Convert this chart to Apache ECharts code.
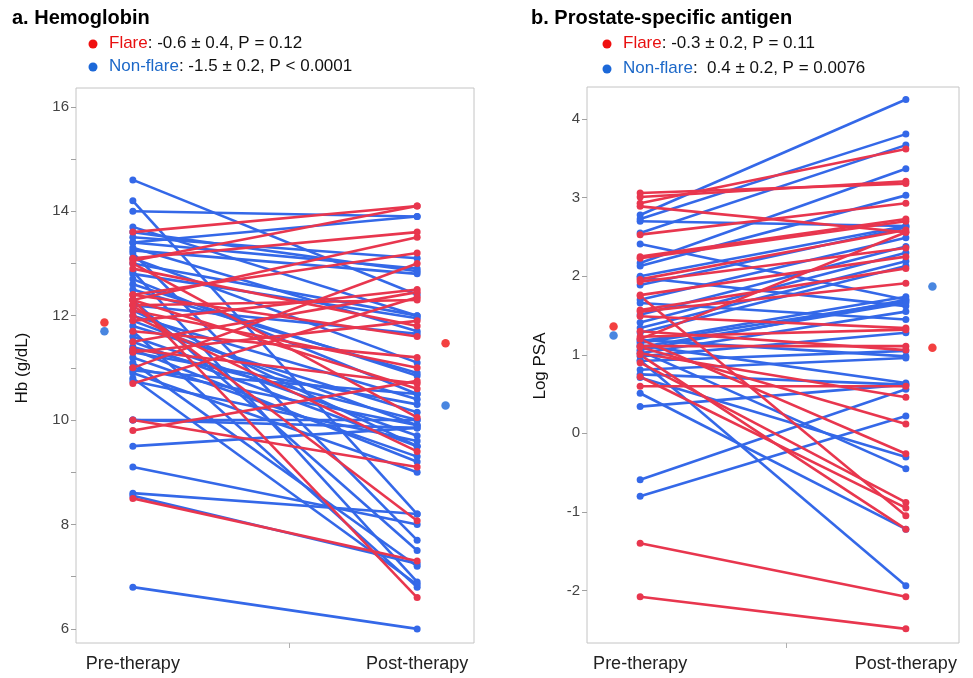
<!DOCTYPE html>
<html><head><meta charset="utf-8">
<script src="https://cdn.jsdelivr.net/npm/echarts@6/dist/echarts.min.js"></script>
<style>html,body{margin:0;padding:0;background:#fff}#c{width:973px;height:678px}</style>
</head><body><div id="c"></div>
<script>
// ---- Data ----
const categories = ['Pre-therapy', 'Post-therapy'];
// Hemoglobin (g/dL): pre and post values, paired by index
const hbFlarePre  = [13.6, 13.05, 13.1, 12.3, 12.4, 11.9, 11.5, 10.7, 12.2, 11.3, 12.9, 12.4, 11.7, 12.1, 11.35, 9.8, 12.3, 13.0, 12.0, 10.0, 12.2, 12.3, 8.5, 11.0];
const hbFlarePost = [14.1, 14.1, 13.6, 13.5, 13.2, 12.5, 12.45, 12.35, 12.3, 11.9, 11.8, 11.6, 11.2, 11.0, 10.7, 10.75, 10.6, 10.05, 9.4, 9.1, 8.07, 6.6, 7.3, 13.0];
const hbNonPre  = [14.6, 14.2, 14.0, 13.7, 13.5, 13.4, 13.4, 13.3, 13.25, 13.2, 13.1, 13.0, 12.85, 12.8, 12.7, 12.6, 12.3, 12.2, 12.0, 11.9, 11.8, 11.7, 11.6, 11.5, 11.4, 11.35, 11.2, 11.1, 11.0, 10.9, 10.8, 10.75, 10.0, 10.0, 9.5, 9.1, 8.6, 8.55, 6.8, 12.5, 13.6, 11.3, 12.1, 10.95];
const hbNonPost = [12.4, 8.2, 13.9, 12.0, 13.1, 13.9, 12.9, 11.7, 12.8, 7.7, 11.1, 12.0, 6.9, 11.95, 10.5, 10.85, 7.5, 11.65, 10.4, 9.9, 10.15, 6.8, 9.7, 9.5, 10.0, 9.2, 9.3, 7.2, 9.9, 9.0, 6.85, 9.6, 10.0, 9.85, 9.85, 8.0, 8.2, 7.25, 6.0, 10.9, 12.85, 10.3, 9.5, 10.5];
const hbMeanFlare = [11.87, 11.47];
const hbMeanNon   = [11.70, 10.28];
const hbTicks = [6, 8, 10, 12, 14, 16];
const hbMinorTicks = [6, 7, 8, 9, 10, 11, 12, 13, 14, 15, 16];

// Log PSA: pre and post values, paired by index
const psaFlarePre  = [3.06, 3.01, 2.93, 2.89, 2.53, 2.25, 2.23, 1.96, 1.93, 1.75, 1.57, 1.55, 1.49, 1.23, 1.20, 1.11, 1.02, 1.20, 1.10, 0.90, 0.72, 1.00, 0.60, -1.40, -2.08, 1.30, 1.76];
const psaFlarePost = [3.18, 3.21, 3.62, 2.56, 2.93, 2.73, 2.70, 2.59, 2.36, -1.05, 2.10, 1.91, 1.34, 1.32, 2.56, 1.11, 0.46, -0.26, 0.12, -0.88, -0.95, -1.22, 0.60, -2.08, -2.49, 1.06, 2.25];
const psaNonPre  = [2.78, 2.73, 2.55, 2.41, 2.17, 2.13, 2.00, 1.98, 1.89, 1.70, 1.66, 1.51, 1.41, 1.34, 1.28, 1.17, 1.06, 1.15, 1.10, 1.02, 0.98, 1.19, 1.12, 0.92, 0.81, 0.71, 0.51, 0.34, 1.05, 0.75, -0.59, -0.80, 0.93, 2.70];
const psaNonPost = [4.25, 3.81, 3.67, 1.70, 3.37, 3.03, 2.64, 1.62, 2.62, 2.49, 1.45, 2.38, 2.30, 2.19, 2.13, 1.74, 1.70, 1.68, 1.66, 1.55, 1.28, 0.98, 0.64, 1.05, 0.96, -0.30, -1.22, 0.62, -0.45, 0.62, 0.56, 0.22, -1.94, 2.64];
const psaMeanFlare = [1.36, 1.09];
const psaMeanNon   = [1.245, 1.87];
const psaTicks = [-2, -1, 0, 1, 2, 3, 4];

// ---- Rendering ----
const RED = '#E8364E', BLUE = '#3468E8', MRED = '#F01010', MBLUE = '#1C68D8';
const FONT = 'Liberation Sans, Arial, sans-serif';
const chart = echarts.init(document.getElementById('c'), null, {renderer: 'canvas'});

function pairSeries(pre, post, color, gi) {
  return pre.map((p, i) => ({
    type: 'line', xAxisIndex: gi, yAxisIndex: gi, silent: true, animation: false,
    data: [[0, p], [1, post[i]]],
    symbol: 'circle', symbolSize: 7, showSymbol: true,
    lineStyle: {color: color, width: 2.6}, itemStyle: {color: color},
    z: 2
  }));
}
function meanSeries(vals, color, gi) {
  return {
    type: 'scatter', xAxisIndex: gi, yAxisIndex: gi, silent: true, animation: false,
    data: [[-0.1, vals[0]], [1.1, vals[1]]], symbolSize: 8.5,
    itemStyle: {color: color}, z: 3
  };
}
function xAxis(gi) {
  return {
    type: 'value', gridIndex: gi, min: -0.2, max: 1.2, position: 'bottom',
    axisLine: {show: false, onZero: false}, splitLine: {show: false},
    axisTick: {show: true, customValues: [0.55], length: 5, lineStyle: {color: '#b0b0b0'}},
    axisLabel: {show: true, customValues: [0, 1], margin: 12, fontSize: 18, color: '#222', fontFamily: FONT,
      formatter: v => (v === 0 ? categories[0] : categories[1])}
  };
}
function yAxis(gi, min, max, labels, ticks) {
  return {
    type: 'value', gridIndex: gi, min: min, max: max, position: 'left',
    axisLine: {show: false, onZero: false}, splitLine: {show: false},
    axisTick: {show: true, customValues: ticks, length: 5, lineStyle: {color: '#a0a0a0'}},
    axisLabel: {customValues: labels, margin: 7, fontSize: 15, color: '#444', fontFamily: FONT}
  };
}

const series = []
  .concat(pairSeries(hbNonPre, hbNonPost, BLUE, 0))
  .concat(pairSeries(hbFlarePre, hbFlarePost, RED, 0))
  .concat(pairSeries(psaNonPre, psaNonPost, BLUE, 1))
  .concat(pairSeries(psaFlarePre, psaFlarePost, RED, 1));
series.push(meanSeries(hbMeanFlare, MRED, 0), meanSeries(hbMeanNon, MBLUE, 0),
            meanSeries(psaMeanFlare, MRED, 1), meanSeries(psaMeanNon, MBLUE, 1));

function legendText(x, y, color, name, rest) {
  return {
    type: 'text', left: x, top: y,
    style: {
      text: '{n|' + name + '}{r|' + rest + '}',
      rich: {n: {fill: color, fontSize: 17, fontFamily: FONT}, r: {fill: '#111', fontSize: 17, fontFamily: FONT}}
    }
  };
}
function dot(cx, cy, color) {
  return {type: 'circle', shape: {cx: cx, cy: cy, r: 4.5}, style: {fill: color}};
}

chart.setOption({
  backgroundColor: '#fff',
  animation: false,
  grid: [
    {left: 76, top: 88, width: 398, height: 555, show: true, borderColor: '#c4c4c4', borderWidth: 1, backgroundColor: 'transparent'},
    {left: 587, top: 87, width: 372, height: 556, show: true, borderColor: '#c4c4c4', borderWidth: 1, backgroundColor: 'transparent'}
  ],
  xAxis: [xAxis(0), xAxis(1)],
  yAxis: [yAxis(0, 5.73, 16.36, hbTicks, hbMinorTicks), yAxis(1, -2.67, 4.41, psaTicks, psaTicks)],
  series: series,
  graphic: [
    {type: 'text', left: 12, top: 8, style: {text: 'a. Hemoglobin', fontSize: 20, fontWeight: 'bold', fill: '#000', fontFamily: FONT}},
    {type: 'text', left: 531, top: 8, style: {text: 'b. Prostate-specific antigen', fontSize: 20, fontWeight: 'bold', fill: '#000', fontFamily: FONT}},
    dot(93, 44, MRED), legendText(109, 35, '#E81010', 'Flare', ': -0.6 \u00b1 0.4, P = 0.12'),
    dot(93, 67, MBLUE), legendText(109, 58, '#1C68C8', 'Non-flare', ': -1.5 \u00b1 0.2, P < 0.0001'),
    dot(607, 44, MRED), legendText(623, 35, '#E81010', 'Flare', ': -0.3 \u00b1 0.2, P = 0.11'),
    dot(607, 69, MBLUE), legendText(623, 60, '#1C68C8', 'Non-flare', ':  0.4 \u00b1 0.2, P = 0.0076'),
    {type: 'text', x: 22, y: 368, rotation: Math.PI / 2,
      style: {text: 'Hb (g/dL)', fontSize: 17, fill: '#111', fontFamily: FONT, align: 'center', verticalAlign: 'middle'}},
    {type: 'text', x: 540, y: 366, rotation: Math.PI / 2,
      style: {text: 'Log PSA', fontSize: 17, fill: '#111', fontFamily: FONT, align: 'center', verticalAlign: 'middle'}}
  ]
});
</script></body></html>
